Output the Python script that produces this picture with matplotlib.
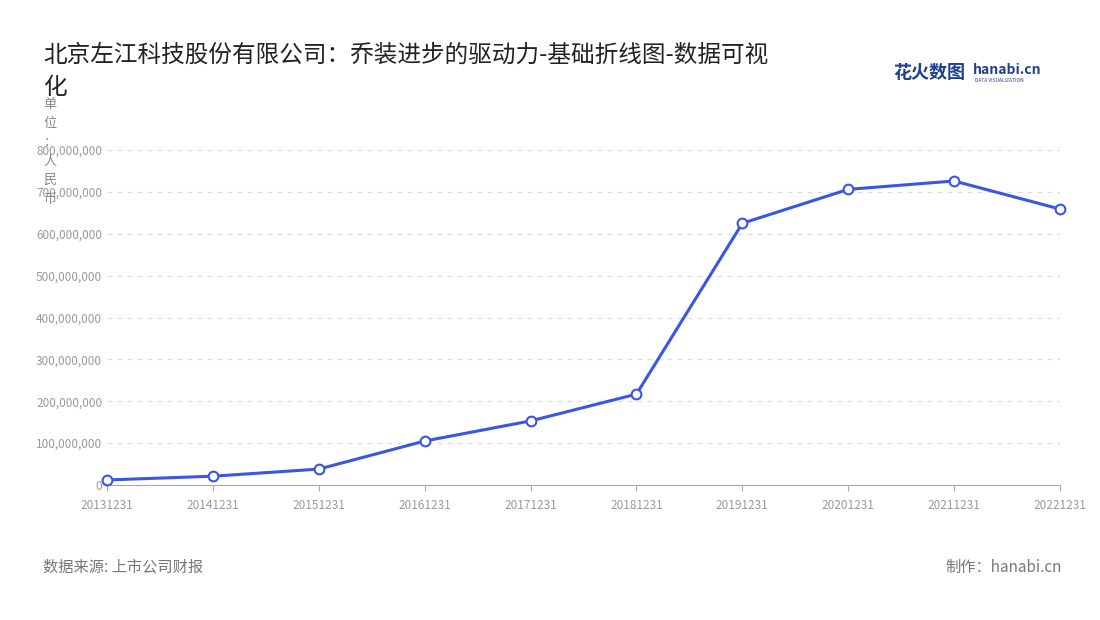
import matplotlib.pyplot as plt
from matplotlib.ticker import FuncFormatter

plt.rcParams['font.family'] = ['Noto Sans CJK SC', 'DejaVu Sans']

dates = ["20131231", "20141231", "20151231", "20161231", "20171231",
         "20181231", "20191231", "20201231", "20211231", "20221231"]
values = [12e6, 21e6, 38e6, 105e6, 153e6, 217e6, 625e6, 706e6, 726e6, 659e6]
yticks = [0, 1e8, 2e8, 3e8, 4e8, 5e8, 6e8, 7e8, 8e8]

fig = plt.figure(figsize=(11, 6.2), dpi=100)
ax = fig.add_axes([107 / 1100, 1 - 485 / 620, (1060 - 107) / 1100, 335 / 620])

x = list(range(len(dates)))
ax.plot(x, values, color='#3b55e6', lw=2.2, marker='o', markersize=7,
        markerfacecolor='white', markeredgecolor='#3b55e6', markeredgewidth=1.5,
        clip_on=False, zorder=3)

ax.set_xlim(0, len(dates) - 1)
ax.set_ylim(0, 8e8)
ax.set_xticks(x)
ax.set_xticklabels(dates)
ax.set_yticks(yticks)
ax.yaxis.set_major_formatter(FuncFormatter(lambda v, p: f"{int(v):,}"))
ax.tick_params(axis='both', labelsize=8.5, colors='#999999', length=0)
ax.tick_params(axis='x', length=4, color='#aaaaaa', pad=6)
ax.grid(axis='y', ls=(0, (4, 4)), color='#dddddd', lw=0.9)
for s in ['top', 'right', 'left']:
    ax.spines[s].set_visible(False)
ax.spines['bottom'].set_color('#aaaaaa')

fig.text(43 / 1100, 1 - 55 / 620, "北京左江科技股份有限公司：乔装进步的驱动力-基础折线图-数据可视",
         fontsize=17, color='#222222', va='center')
fig.text(43 / 1100, 1 - 88 / 620, "化", fontsize=17, color='#222222', va='center')
fig.text(50 / 1100, 1 - 152 / 620, "单\n位\n：\n人\n民\n币", fontsize=9.5, color='#888888',
         ha='center', va='center', linespacing=1.6)

fig.text(893 / 1100, 1 - 73 / 620, "花火数图", fontsize=13, color='#1f3f8f',
         fontweight='bold', va='center')
fig.text(973 / 1100, 1 - 70 / 620, "hanabi.cn", fontsize=10, color='#1f3f8f',
         fontweight='bold', va='center')
fig.text(975 / 1100, 1 - 80 / 620, "DATA VISUALIZATION", fontsize=3.5, color='#1f3f8f',
         va='center')

fig.text(43 / 1100, 1 - 567 / 620, "数据来源: 上市公司财报", fontsize=11, color='#777777', va='center')
fig.text(1062 / 1100, 1 - 567 / 620, "制作：hanabi.cn", fontsize=11, color='#777777',
         va='center', ha='right')

fig.savefig("out.png", dpi=100)
